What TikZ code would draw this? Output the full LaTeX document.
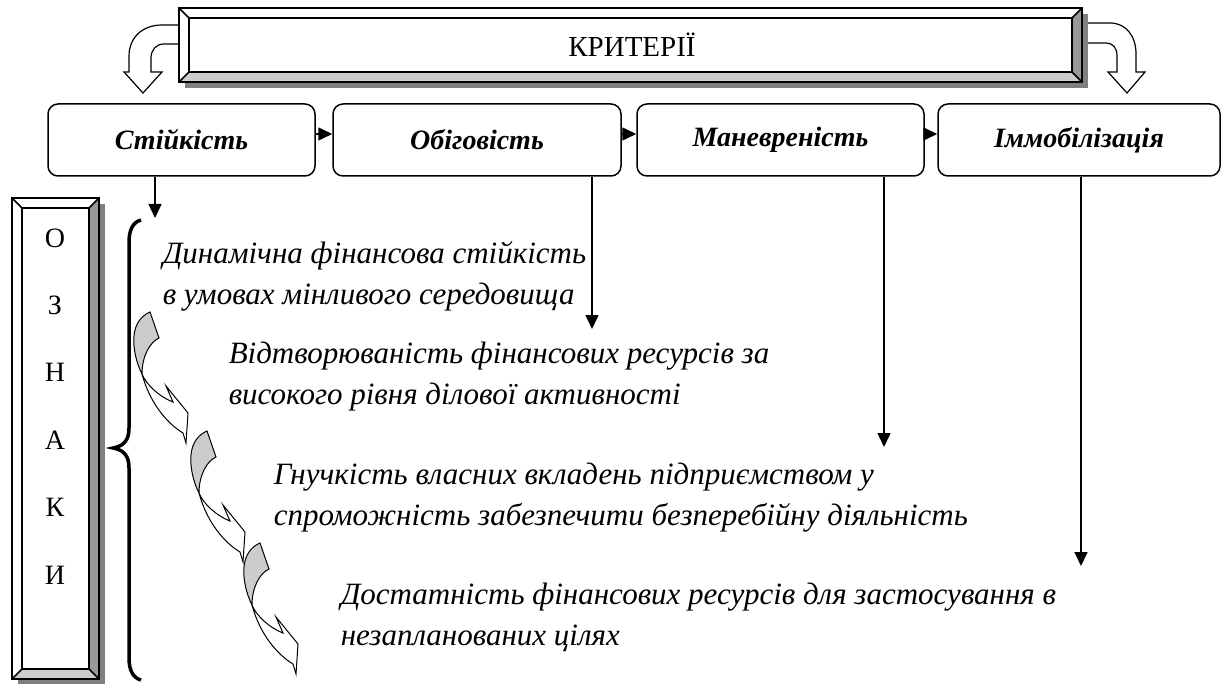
\documentclass[tikz,border=0pt]{standalone}
\usepackage{fontspec}
\setmainfont{Liberation Serif}
\usetikzlibrary{arrows.meta,positioning}

\begin{document}
\begin{tikzpicture}[x=1pt,y=-1pt,line width=1.5pt,>={Triangle[length=14pt,width=13pt]},
	krit/.style={draw,rounded corners=10pt,minimum height=72pt,inner sep=0pt,font=\fontsize{28}{32}\selectfont\bfseries\itshape},
	oznaka/.style={anchor=west,align=left,inner sep=0pt,font=\fontsize{31}{41}\selectfont\itshape},
	litera/.style={inner sep=0pt,font=\fontsize{28}{32}\selectfont}]
	\useasboundingbox (0,0) rectangle (1222,684);
	% великі вигнуті стрілки
	\draw[line width=1.2pt,fill=white] (180,25) -- (162,25) .. controls (142,25) and (129,38) .. (129,56) -- (129,72) -- (124,72) -- (143,93) -- (162,72) -- (151,72) -- (151,58) .. controls (151,50) and (156,44) .. (164,44) -- (180,44);
	\draw[line width=1.2pt,fill=white] (1087,23) -- (1110,23) .. controls (1126,23) and (1136,36) .. (1136,54) -- (1136,72) -- (1145,72) -- (1127,93) -- (1108,72) -- (1117,72) -- (1117,56) .. controls (1117,48) and (1113,43) .. (1106,43) -- (1087,43);
	% об'ємні рамки
	\foreach \xa/\ya/\xb/\yb in {179/8/1082/82,12/198/99/679}{
		\fill[gray] (\xa+6,\ya+6) rectangle (\xb+6,\yb+6);
		\fill[white] (\xa,\ya) rectangle (\xb,\yb);
		\fill[gray!80] (\xb,\ya) -- (\xb,\yb) -- (\xb-10,\yb-10) -- (\xb-10,\ya+10) -- cycle;
		\fill[gray!40] (\xa,\yb) -- (\xb,\yb) -- (\xb-10,\yb-10) -- (\xa+10,\yb-10) -- cycle;
		\draw (\xa,\ya) rectangle (\xb,\yb);
		\draw (\xa+10,\ya+10) rectangle (\xb-10,\yb-10);
		\draw (\xa,\ya) -- (\xa+10,\ya+10) (\xb,\ya) -- (\xb-10,\ya+10) (\xa,\yb) -- (\xa+10,\yb-10) (\xb,\yb) -- (\xb-10,\yb-10);
	}
	\node[inner sep=0pt,font=\fontsize{29}{33}\selectfont] (krit) at (632,45) {КРИТЕРІЇ};
	\foreach \l [count=\i] in {О,З,Н,А,К,И}{
		\node[litera] (l\i) at (55,{238+67.4*(\i-1)}) {\l};
	}
	% критерії
	\foreach \n/\t/\x/\w in {1/Стійкість/181.5/267,2/Обіговість/477/288,3/Маневреність/780.5/287,4/Іммобілізація/1079/282}{
		\node[krit,minimum width=\w pt] (b\n) at (\x,140) {\t};
	}
	\foreach \a/\b in {1/2,2/3,3/4}{
		\draw[->] ([yshift=6pt]b\a.east) -- ([yshift=6pt]b\b.west);
	}
	\foreach \n/\x/\y in {1/155/218,2/592/329,3/884/447,4/1081/566}{
		\coordinate (k\n) at (\x,\y);
		\draw[->] (b\n.south -| k\n) -- (k\n);
	}
	% дужка
	\draw[line width=3.5pt] (141,220) .. controls (133,222) and (129,230) .. (129,242) -- (129,428) .. controls (129,440) and (124,446) .. (113,448) .. controls (124,450) and (129,456) .. (129,468) -- (129,658) .. controls (129,670) and (133,678) .. (141,680);
	% ознаки
	\node[oznaka] (t1) at (162,276) {Динамічна фінансова стійкість\\в умовах мінливого середовища};
	\node[oznaka] (t2) at (228,377) {Відтворюваність фінансових ресурсів за\\високого рівня ділової активності};
	\node[oznaka] (t3) at (273,498) {Гнучкість власних вкладень підприємством у\\спроможність забезпечити безперебійну діяльність};
	\node[oznaka] (t4) at (340,617) {Достатність фінансових ресурсів для застосування в\\незапланованих цілях};
	% стрілки-переходи
	\foreach \x/\y in {150/312,207/431,260/543}{
		\begin{scope}[shift={(\x,\y)},line width=1pt]
			\draw[fill=gray!40] (0,0) -- (9,26) .. controls (0,30) and (-8,44) .. (-8,62) .. controls (-14,50) and (-17,36) .. (-16,24) .. controls (-15,12) and (-9,4) .. (0,0) -- cycle;
			\draw[fill=white] (-8,62) .. controls (-4,72) and (8,84) .. (23,90) -- (16,74) -- (38,101) -- (36,131) -- (33,121) .. controls (18,112) and (0,92) .. (-8,62) -- cycle;
		\end{scope}
	}
\end{tikzpicture}
\end{document}
